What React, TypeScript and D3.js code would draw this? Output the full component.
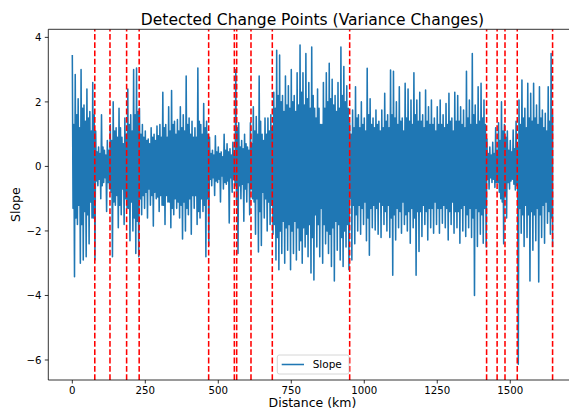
import React from 'react';
import * as d3 from 'd3';

// Slope signal per 10 km bin:
// local upper extreme, local lower extreme, and half-width of the dense body of the trace
const BIN_KM = 10;
const peaks = [
  // 0-70
  3.45, 2.85, 2.1, 3.0, 1.9, 2.4, 1.7, 2.6,
  // 80-120
  1.1, 0.6, 1.6, 0.5, 0.8,
  // 130-180
  1.3, 2.0, 1.2, 1.8, 0.9, 1.5,
  // 190-220
  2.4, 1.6, 3.0, 3.05,
  // 230-460
  1.8, 1.3, 1.1, 0.85, 1.2, 1.0, 1.25, 1.3, 2.3, 1.3, 1.85, 2.35, 1.4, 1.45, 1.85, 1.6, 2.8, 1.5, 1.4, 1.2, 3.05, 1.3, 1.95, 1.4,
  // 470-550
  0.9, 0.5, 0.95, 0.6, 0.45, 1.0, 0.7, 0.55, 0.75,
  // 560
  3.0,
  // 570-610
  1.35, 0.8, 1.0, 0.6, 1.35,
  // 620-680
  1.85, 1.55, 2.8, 1.0, 1.5, 1.5, 1.6,
  // 690-940
  2.3, 3.6, 3.45, 2.2, 2.8, 2.5, 3.0, 2.2, 2.9, 3.76, 2.9, 3.5, 2.6, 3.7, 1.8, 2.4, 1.3, 2.6, 2.9, 3.2, 2.7, 2.2, 2.6, 3.7, 3.1, 2.5,
  // 950-1410
  1.34, 1.75, 2.47, 1.6, 2.0, 1.5, 3.04, 2.1, 1.5, 1.75, 1.4, 1.75, 2.27, 1.6, 2.99, 2.95, 2.0, 2.47, 1.5, 2.58, 2.4, 2.06, 2.9, 2.06,
  2.3, 1.6, 2.37, 1.85, 2.06, 1.5, 1.85, 2.06, 1.6, 1.95, 2.27, 1.5, 2.3, 2.2, 1.85, 1.75, 2.95, 2.06, 3.5, 1.9, 2.47, 2.58, 2.06,
  // 1420-1450
  0.85, 0.6, 0.75, 1.2,
  // 1460-1480
  1.35, 2.0, 1.3,
  // 1490-1520
  1.1, 0.8, 1.13, 1.4,
  // 1530-1640
  2.06, 2.68, 1.8, 2.58, 2.27, 2.58, 1.9, 2.47, 1.75, 1.65, 2.47, 3.5,
];
const troughs = [
  -3.42, -1.8, -3.0, -2.9, -2.8, -2.4, -1.6, -2.9,
  -0.6, -1.0, -0.5, -1.4, -0.7,
  -2.8, -1.2, -1.9, -1.5, -1.8, -1.3,
  -2.3, -2.0, -2.7, -2.8,
  -1.5, -1.3, -1.6, -1.2, -1.85, -1.0, -1.4, -1.2, -1.8, -1.1, -1.9, -1.5, -1.3, -1.6, -2.25, -2.0, -1.5, -2.1, -1.3, -1.8, -1.6, -1.4, -2.8, -2.45,
  -0.6, -0.9, -0.5, -1.1, -0.7, -0.55, -1.75, -0.8, -0.6,
  -2.7,
  -1.0, -1.7, -1.1, -1.5, -1.0,
  -2.1, -2.65, -2.45, -1.6, -2.0, -1.8, -2.1,
  -2.9, -3.2, -2.7, -3.0, -2.6, -3.2, -2.7, -2.9, -2.6, -3.0, -2.5, -2.8, -3.3, -3.52, -2.5, -2.8, -3.0, -2.4, -2.7, -3.1, -3.55, -2.6, -2.9, -3.1, -2.5, -3.2,
  -2.9, -2.4, -2.0, -2.1, -1.8, -2.3, -2.75, -1.9, -1.97, -2.1, -2.2, -1.8, -2.0, -2.2, -3.37, -2.28, -1.9, -2.07, -1.8, -2.0, -2.38, -1.9, -3.37, -2.64,
  -2.17, -1.8, -2.28, -1.9, -2.07, -1.8, -2.07, -1.76, -1.9, -2.28, -1.8, -2.07, -1.9, -2.38, -2.0, -2.17, -1.9, -2.2, -4.0, -2.48, -2.1, -2.38, -2.5,
  -0.7, -0.5, -0.65, -0.5,
  -1.0, -2.4, -1.6,
  -0.7, -0.4, -0.73, -6.13,
  -2.07, -2.48, -2.2, -3.55, -2.6, -2.3, -3.58, -2.2, -2.38, -1.76, -2.1, -2.5,
];
const body = [
  1.3, 1.6, 1.2, 1.8, 1.4, 1.5, 1.1, 1.6,
  0.45, 0.4, 0.6, 0.35, 0.5,
  0.8, 1.1, 0.9, 1.2, 0.7, 1.0,
  1.3, 1.1, 1.6, 1.7,
  1.0, 0.9, 0.8, 0.7, 0.9, 0.8, 0.95, 0.9, 1.2, 0.9, 1.1, 1.3, 1.0, 1.1, 1.2, 1.1, 1.3, 1.0, 0.9, 0.9, 1.4, 1.0, 1.2, 1.0,
  0.4, 0.35, 0.45, 0.4, 0.3, 0.5, 0.45, 0.35, 0.4,
  1.2,
  0.6, 0.55, 0.7, 0.5, 0.7,
  1.1, 1.0, 1.4, 0.8, 1.0, 1.1, 1.2,
  1.8, 2.2, 2.0, 1.7, 1.9, 1.8, 2.0, 1.7, 1.9, 2.3, 1.9, 2.1, 1.8, 2.2, 1.5, 1.8, 1.3, 1.8, 2.0, 2.1, 1.9, 1.7, 1.8, 2.2, 2.0, 1.8,
  1.0, 1.2, 1.5, 1.2, 1.3, 1.1, 1.6, 1.3, 1.2, 1.3, 1.1, 1.2, 1.4, 1.2, 1.6, 1.5, 1.3, 1.4, 1.1, 1.5, 1.4, 1.3, 1.6, 1.4,
  1.4, 1.2, 1.4, 1.3, 1.3, 1.1, 1.3, 1.3, 1.2, 1.3, 1.4, 1.1, 1.4, 1.4, 1.3, 1.2, 1.5, 1.3, 1.6, 1.3, 1.4, 1.5, 1.3,
  0.4, 0.35, 0.4, 0.5,
  0.8, 1.1, 0.9,
  0.5, 0.45, 0.55, 0.6,
  1.3, 1.5, 1.2, 1.5, 1.4, 1.5, 1.3, 1.5, 1.2, 1.1, 1.4, 1.6,
];

const END_KM = 1645;
const changePoints = [77, 129, 186, 229, 467, 555, 563, 612, 685, 950, 1419, 1455, 1482, 1524, 1645];
const xTicks = [0, 250, 500, 750, 1000, 1250, 1500];
const yTicks = [-6, -4, -2, 0, 2, 4];

const FONT = "'DejaVu Sans', sans-serif";
const BLUE = '#1f77b4';

export default function App() {
  const W = 569;
  const H = 412;
  const left = 48.3;
  const top = 29.3;
  const bottom = 380;
  const x = d3.scaleLinear().domain([-82.25, 1727.25]).range([left, 576.6]);
  const y = d3.scaleLinear().domain([-6.62, 4.25]).range([bottom, top]);

  const pts: [number, number][] = [];
  peaks.forEach((p, i) => {
    const k0 = i * BIN_KM;
    const q = BIN_KM / 4;
    pts.push([k0, p]);
    pts.push([k0 + q, -body[i]]);
    pts.push([k0 + 2 * q, body[i]]);
    pts.push([Math.min(k0 + 3 * q, END_KM), troughs[i]]);
  });

  const line = d3
    .line<[number, number]>()
    .x((d) => x(d[0]))
    .y((d) => y(d[1]));

  const fmt = (v: number) => (v < 0 ? '\u2212' + Math.abs(v) : String(v));
  const cx = (left + 576.6) / 2;

  return (
    <div style={{ position: 'absolute', left: 0, top: 0 }}>
      <svg width={W} height={H} style={{ display: 'block', background: '#fff' }} fontFamily={FONT}>
        <defs>
          <clipPath id="plotclip">
            <rect x={left} y={top} width={W - left} height={bottom - top} />
          </clipPath>
        </defs>
        <g clipPath="url(#plotclip)">
          <path d={line(pts) || ''} fill="none" stroke={BLUE} strokeWidth={1.55} strokeLinejoin="round" />
          {changePoints.map((c) => (
            <line
              key={c}
              x1={x(c)}
              x2={x(c)}
              y1={bottom}
              y2={top}
              stroke="#ff0000"
              strokeWidth={1.55}
              strokeDasharray="5.8 2.5"
            />
          ))}
        </g>
        {/* spines */}
        <line x1={left} x2={left} y1={top} y2={bottom} stroke="#000" strokeWidth={0.8} />
        <line x1={left} x2={W} y1={bottom} y2={bottom} stroke="#000" strokeWidth={0.8} />
        <line x1={left} x2={W} y1={top} y2={top} stroke="#000" strokeWidth={0.8} />
        {/* x ticks */}
        {xTicks.map((t) => (
          <g key={t} transform={`translate(${x(t)},0)`}>
            <line y1={bottom} y2={bottom + 3.5} stroke="#000" strokeWidth={0.8} />
            <text y={394.2} textAnchor="middle" fontSize={10.2} fill="#000">
              {fmt(t)}
            </text>
          </g>
        ))}
        {/* y ticks */}
        {yTicks.map((t) => (
          <g key={t} transform={`translate(0,${y(t)})`}>
            <line x1={left - 3.5} x2={left} stroke="#000" strokeWidth={0.8} />
            <text x={41.5} y={3.7} textAnchor="end" fontSize={10.2} fill="#000">
              {fmt(t)}
            </text>
          </g>
        ))}
        {/* labels */}
        <text x={cx} y={407} textAnchor="middle" fontSize={12.5} fill="#000">
          Distance (km)
        </text>
        <text transform={`translate(19.5,${(top + bottom) / 2}) rotate(-90)`} textAnchor="middle" fontSize={12.5} fill="#000">
          Slope
        </text>
        <text x={cx} y={25} textAnchor="middle" fontSize={15.5} fill="#000">
          Detected Change Points (Variance Changes)
        </text>
        {/* legend */}
        <g>
          <rect x={277.3} y={355} width={71.7} height={19} rx={2} fill="#fff" fillOpacity={0.8} stroke="#cccccc" strokeWidth={0.8} />
          <line x1={281.7} x2={304} y1={364.5} y2={364.5} stroke={BLUE} strokeWidth={1.55} />
          <text x={312.7} y={368.2} fontSize={10.5} fill="#000">
            Slope
          </text>
        </g>
      </svg>
    </div>
  );
}
